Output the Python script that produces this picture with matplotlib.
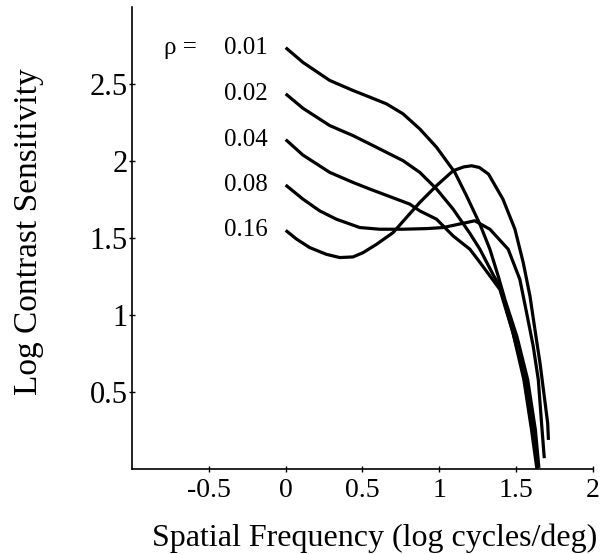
import matplotlib
matplotlib.use("Agg")
import matplotlib.pyplot as plt

# ---- data ----
rho_labels = ["0.01", "0.02", "0.04", "0.08", "0.16"]

x_001 = [0.0, 0.113, 0.287, 0.438, 0.547, 0.656, 0.764, 0.873, 0.982, 1.101, 1.177, 1.264, 1.329, 1.383, 1.427, 1.505, 1.575, 1.625, 1.648]
y_001 = [2.736, 2.640, 2.523, 2.458, 2.415, 2.371, 2.306, 2.208, 2.089, 1.926, 1.774, 1.590, 1.427, 1.253, 1.100, 0.860, 0.580, 0.254, 0.007]

x_002 = [0.0, 0.113, 0.287, 0.438, 0.547, 0.764, 0.873, 0.982, 1.090, 1.199, 1.264, 1.351, 1.394, 1.479, 1.560, 1.610, 1.642]
y_002 = [2.436, 2.342, 2.230, 2.165, 2.111, 2.002, 1.926, 1.818, 1.687, 1.530, 1.427, 1.260, 1.186, 0.886, 0.580, 0.254, 0.013]

x_004 = [0.0, 0.113, 0.287, 0.438, 0.547, 0.808, 0.873, 0.982, 1.090, 1.199, 1.264, 1.394, 1.479, 1.550, 1.600, 1.635]
y_004 = [2.139, 2.038, 1.926, 1.861, 1.818, 1.720, 1.676, 1.622, 1.513, 1.427, 1.342, 1.166, 0.886, 0.580, 0.254, 0.0]

x_008 = [0.0, 0.113, 0.222, 0.330, 0.482, 0.612, 0.764, 0.917, 1.025, 1.199, 1.230, 1.329, 1.448, 1.524, 1.568, 1.611, 1.644, 1.666, 1.683]
y_008 = [1.844, 1.752, 1.676, 1.622, 1.568, 1.557, 1.557, 1.561, 1.568, 1.605, 1.612, 1.557, 1.427, 1.231, 1.014, 0.797, 0.580, 0.287, 0.070]

x_016 = [0.0, 0.072, 0.156, 0.265, 0.352, 0.438, 0.504, 0.591, 0.699, 0.786, 0.873, 0.982, 1.090, 1.160, 1.210, 1.260, 1.320, 1.414, 1.492, 1.546, 1.590, 1.622, 1.655, 1.683, 1.705, 1.710]
y_016 = [1.550, 1.492, 1.438, 1.394, 1.373, 1.377, 1.405, 1.459, 1.535, 1.633, 1.731, 1.840, 1.937, 1.962, 1.969, 1.958, 1.915, 1.752, 1.557, 1.340, 1.122, 0.906, 0.689, 0.471, 0.298, 0.189]

series_x = [x_001, x_002, x_004, x_008, x_016]
series_y = [y_001, y_002, y_004, y_008, y_016]

x_ticks = [-0.5, 0, 0.5, 1, 1.5, 2]
x_tick_labels = ["-0.5", "0", "0.5", "1", "1.5", "2"]
y_ticks = [0.5, 1, 1.5, 2, 2.5]
y_tick_labels = ["0.5", "1", "1.5", "2", "2.5"]

x_label = "Spatial Frequency (log cycles/deg)"
y_label = "Log Contrast Sensitivity"
rho_prefix = "\u03c1 ="

# ---- figure ----
plt.rcParams['font.family'] = ['Liberation Serif', 'DejaVu Serif']
fig = plt.figure(figsize=(6.11, 5.54), dpi=100)
ax = fig.add_axes([132/611, 1-469/554, (593-132)/611, (469-7)/554])

for xs, ys in zip(series_x, series_y):
    ax.plot(xs, ys, color='black', lw=2.3, solid_capstyle='butt', solid_joinstyle='round')

for xs, ys, lab in zip(series_x, series_y, rho_labels):
    ax.text(xs[0] - 0.115, ys[0], lab, ha='right', va='center', fontsize=18)
ax.text(-0.575, series_y[0][0], rho_prefix, ha='right', va='center', fontsize=18)

ax.set_xlim(-1.0, 2.0)
ax.set_ylim(0.0, 3.0)
ax.set_xticks(x_ticks)
ax.set_xticklabels(x_tick_labels)
ax.set_yticks(y_ticks)
ax.set_yticklabels(y_tick_labels)

for s in ['top', 'right']:
    ax.spines[s].set_visible(False)
for s in ['left', 'bottom']:
    ax.spines[s].set_linewidth(1.2)

ax.tick_params(axis='both', direction='inout', length=5, width=1.0)
ax.tick_params(axis='x', pad=4, labelsize=20)
ax.tick_params(axis='y', pad=0.5, labelsize=22)

ax.set_xlabel(x_label, fontsize=23)
ax.set_ylabel(y_label, fontsize=24)
ax.xaxis.set_label_coords(0.527, -0.117)
ax.xaxis.label.set_va('top')
ax.yaxis.set_label_coords(-0.19, 0.513)

fig.savefig("out.png", dpi=100)
